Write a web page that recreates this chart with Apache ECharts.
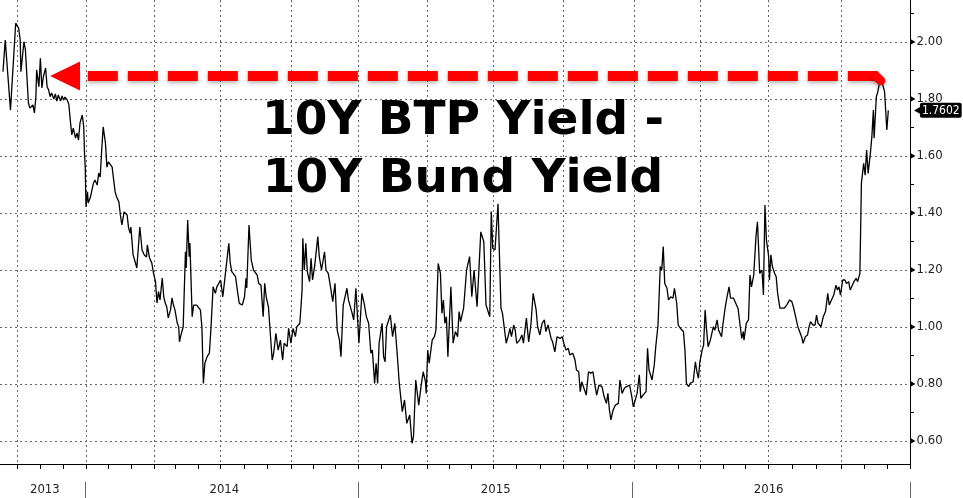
<!DOCTYPE html>
<html><head><meta charset="utf-8">
<script src="https://cdn.jsdelivr.net/npm/echarts@6/dist/echarts.min.js"></script>
<style>html,body{margin:0;padding:0;background:#fff}#c{width:963px;height:498px}</style>
</head><body><div id="c"></div>
<script>
// observation dates, as days counted from 1 Jan 2014
const dayFromJan2014 = [-110,-107,-100,-93,-89,-87,-86,-82,-80,-78,-76,-74,-70,-68,-66,-65,-62,-60,-58,-56,-53,-51,-49,-47,-45,-42,-40,-38,-36,-33,-31,-29,-27,-24,-22,-20,-18,-16,-13,-11,-9,-7,-4,-2,-1,
0,1,3,4,7,9,11,13,16,18,20,22,24,27,29,31,33,36,38,40,42,45,47,49,52,56,58,60,61,64,66,69,73,76,79,82,83,86,89,91,94,96,98,100,103,105,107,109,111,114,116,118,120,123,125,126,128,131,134,135,137,139,140,143,145,149,154,156,158,160,163,166,168,171,174,176,178,181,184,187,192,194,196,201,204,206,210,213,215,216,219,222,225,230,232,235,238,240,242,245,250,252,255,258,261,264,266,270,272,275,278,281,283,287,290,291,293,295,297,300,302,304,307,311,313,316,320,322,325,328,331,334,337,340,342,345,350,352,357,359,362,
366,370,373,376,379,382,384,387,389,391,393,397,399,401,403,408,410,411,414,417,420,424,427,430,434,437,439,442,446,449,452,455,456,458,460,464,467,469,472,475,477,479,481,483,485,489,492,495,498,500,502,506,508,510,514,517,520,524,529,533,536,538,541,543,545,548,552,554,556,558,563,566,568,570,573,575,577,581,584,586,590,593,596,599,603,605,608,611,614,616,619,623,625,628,631,635,638,640,643,646,648,652,655,657,660,662,664,666,670,673,676,679,682,684,687,691,694,697,699,701,703,706,709,713,715,718,721,724,728,
731,733,735,738,741,743,746,750,752,754,758,761,763,766,769,771,773,775,778,780,783,786,788,791,793,796,798,800,802,804,807,809,813,816,818,820,822,825,827,829,831,833,836,838,840,842,845,847,851,853,856,858,861,863,867,871,873,876,878,880,881,884,887,889,891,894,897,899,902,905,907,909,911,914,915,917,919,922,924,926,929,931,935,938,942,945,947,951,953,955,958,960,963,966,968,970,973,976,978,980,984,987,990,993,995,998,1001,1004,1006,1008,1010,1013,1016,1018,1021,1023,1025,1028,1031,1033,1036,1038,1041,1043,1045,1047,1050,1052,1054,1055,1058,1060,1062,1064,1066,1069,1072,1074];

// 10Y BTP yield minus 10Y Bund yield (percentage points)
const spread = [1.896,2.007,1.761,2.066,2.048,2.007,1.896,2.001,1.972,1.878,1.786,1.768,1.779,1.751,1.808,1.902,1.843,1.943,1.839,1.878,1.909,1.843,1.832,1.808,1.821,1.800,1.818,1.793,1.814,1.793,1.811,1.796,1.807,1.796,1.782,1.726,1.674,1.698,1.663,1.681,1.656,1.716,1.744,1.702,1.611,
1.561,1.421,1.474,1.435,1.456,1.481,1.505,1.516,1.498,1.540,1.526,1.621,1.702,1.646,1.561,1.579,1.575,1.561,1.516,1.474,1.456,1.439,1.393,1.358,1.404,1.393,1.347,1.330,1.351,1.253,1.235,1.207,1.351,1.270,1.253,1.246,1.288,1.242,1.225,1.193,1.158,1.084,1.124,1.095,1.172,1.106,1.084,1.071,1.032,1.060,1.102,1.077,1.060,1.014,1.001,0.948,0.972,1.001,1.264,1.207,1.375,1.247,1.295,1.036,1.077,1.077,1.060,1.001,0.802,0.873,0.896,0.908,0.989,1.141,1.118,1.141,1.137,1.165,1.106,1.177,1.294,1.223,1.194,1.177,1.118,1.083,1.077,1.106,1.171,1.137,1.358,1.235,1.200,1.182,1.153,1.147,1.036,1.153,1.106,1.071,0.884,0.908,0.978,0.919,0.954,0.884,0.943,0.931,0.995,0.943,0.995,0.966,1.001,1.013,1.130,1.311,1.200,1.294,1.194,1.159,1.241,1.165,1.218,1.317,1.247,1.200,1.264,1.200,1.188,1.141,1.089,1.153,0.989,0.954,0.896,1.077,1.136,1.095,1.048,1.025,1.136,
0.943,1.118,1.083,1.036,1.013,0.908,0.919,0.802,0.873,0.802,0.943,1.013,0.896,0.878,1.001,1.042,1.036,0.966,1.013,0.913,0.802,0.703,0.744,0.662,0.691,0.592,0.615,0.814,0.726,0.791,0.843,0.808,0.767,0.919,0.873,0.954,0.966,0.989,1.223,1.188,1.048,1.095,1.013,1.036,0.896,1.141,0.943,0.984,0.966,1.054,1.019,1.066,1.066,1.200,1.247,1.106,1.200,1.071,1.334,1.299,1.077,1.083,1.036,1.405,1.276,1.270,1.432,1.247,1.066,1.048,0.943,0.972,0.995,0.966,1.007,0.989,0.943,0.954,0.972,0.943,1.031,0.948,1.007,1.118,1.060,1.001,0.972,1.013,1.025,0.984,1.007,0.960,0.948,0.913,0.966,0.960,0.966,0.943,0.919,0.925,0.902,0.908,0.884,0.849,0.843,0.773,0.808,0.802,0.761,0.843,0.838,0.843,0.791,0.761,0.796,0.791,0.755,0.732,0.767,0.709,0.674,0.709,0.726,0.732,0.814,0.767,0.785,0.791,0.796,
0.755,0.720,0.738,0.767,0.832,0.750,0.761,0.773,0.925,0.849,0.814,0.867,0.931,1.007,1.212,1.200,1.282,1.153,1.136,1.095,1.106,1.101,1.136,1.083,1.007,0.995,1.001,0.984,0.919,0.802,0.791,0.802,0.808,0.878,0.843,0.820,0.878,0.919,0.937,1.060,0.989,0.931,0.954,0.978,1.001,0.989,1.025,0.989,0.966,1.013,1.071,1.101,1.141,1.101,1.101,1.077,1.066,1.001,0.960,0.984,0.954,1.013,1.025,1.182,1.141,1.182,1.317,1.369,1.188,1.200,1.112,1.428,1.305,1.247,1.165,1.253,1.212,1.188,1.177,1.118,1.066,1.060,1.066,1.077,1.095,1.089,1.071,1.025,1.001,0.995,0.966,0.943,0.966,0.972,1.001,1.019,1.007,1.007,1.042,1.013,1.001,1.036,1.054,1.118,1.077,1.095,1.112,1.147,1.130,1.141,1.112,1.165,1.165,1.153,1.159,1.130,1.141,1.159,1.171,1.159,1.188,1.504,1.574,1.533,1.621,1.539,1.609,1.668,1.761,1.662,1.808,1.826,1.855,1.861,1.855,1.826,1.691,1.7602];

const lastValue = 1.7602;

// axes (x in days from 1 Jan 2014)
const xMinDay = -114, xMaxDay = 1103;
const yMin = 0.5193, yMax = 2.1474;
const yTickValues = [0.6,0.7,0.8,0.9,1.0,1.1,1.2,1.3,1.4,1.5,1.6,1.7,1.8,1.9,2.0,2.1];
const yLabelValues = [0.6,0.8,1.0,1.2,1.4,1.6,1.8,2.0];
const yGridValues = [0.6,0.8,1.0,1.2,1.4,1.6,1.8,2.0];
const quarterGridDays = [-91,1,92,180,275,365,457,546,639,734,822,914,1011];
const monthTickDays = [-91,-60,-30,1,31,61,92,121,151,180,212,243,275,305,335,365,396,426,457,487,516,546,577,608,639,671,702,734,763,793,822,853,883,914,946,978,1011,1042,1072,1103];
const yearDividerDays = [0,365,732,1103];
const yearLabelDays = [-54,186,549,914];
const yearLabels = ['2013','2014','2015','2016'];

// annotation
const arrowLevel = 1.881, arrowFromDay = 1060, arrowToDay = -27;
const arrowCornerDay = 1064, arrowCornerLevel = 1.864;
const titleLines = ['10Y BTP Yield -', '10Y Bund Yield'];

const FONT = '"DejaVu Sans Condensed", "DejaVu Sans", sans-serif';
const gridStyle = { color: '#666', type: [2, 3], width: 1 };

const chart = echarts.init(document.getElementById('c'), null, { renderer: 'canvas' });
const data = dayFromJan2014.map((d, i) => [d, spread[i]]);

const xBase = { type: 'value', position: 'bottom', min: xMinDay, max: xMaxDay, scale: true };
const arrowStyle = { color: '#f00', width: 10, type: [30, 10], cap: 'butt', opacity: 1,
                     shadowBlur: 4, shadowColor: 'rgba(0,0,0,0.3)', shadowOffsetY: 2 };

chart.setOption({
  animation: false,
  backgroundColor: '#fff',
  grid: { left: 0, right: 53, top: 0, bottom: 34, containLabel: false, outerBoundsMode: 'none' },
  xAxis: [
    Object.assign({}, xBase, {
      axisLine: { show: true, onZero: false, lineStyle: { color: '#000', width: 1 } },
      axisTick: { show: true, customValues: monthTickDays, length: 5, lineStyle: { color: '#000' } },
      axisLabel: { show: false }, splitLine: { show: false } }),
    Object.assign({}, xBase, {
      axisLine: { show: false, onZero: false },
      axisTick: { show: false, customValues: quarterGridDays },
      axisLabel: { show: false }, splitLine: { show: true, lineStyle: gridStyle } }),
    Object.assign({}, xBase, { offset: 18,
      axisLine: { show: false, onZero: false },
      axisTick: { show: true, customValues: yearDividerDays, length: 16, lineStyle: { color: '#666' } },
      axisLabel: { show: true, customValues: yearLabelDays, margin: 1, color: '#222', fontSize: 13, fontFamily: FONT,
        formatter: function (v) {
          const i = yearLabelDays.indexOf(v);
          return i >= 0 ? yearLabels[i] : '';
        } },
      splitLine: { show: false } })
  ],
  yAxis: [
    { type: 'value', position: 'right', min: yMin, max: yMax,
      axisLine: { show: true, onZero: false, lineStyle: { color: '#000', width: 1 } },
      axisTick: { show: true, customValues: yTickValues, length: 4, lineStyle: { color: '#000' } },
      axisLabel: { show: true, customValues: yLabelValues, margin: 0, fontSize: 13, fontFamily: FONT,
        formatter: v => '{t|▶}{v|' + v.toFixed(2) + '}',
        rich: { t: { fontSize: 8, color: '#000', padding: [0, 1, 0, 0] },
                v: { fontSize: 13, fontFamily: FONT, color: '#222' } } },
      splitLine: { show: false } },
    { type: 'value', position: 'right', min: yMin, max: yMax,
      axisLine: { show: false, onZero: false },
      axisTick: { show: false, customValues: yGridValues },
      axisLabel: { show: false }, splitLine: { show: true, lineStyle: gridStyle } },
    { type: 'value', position: 'right', min: yMin, max: yMax, z: 10,
      axisLine: { show: false, onZero: false },
      axisTick: { show: false },
      axisLabel: { show: true, customValues: [lastValue], margin: 4, fontSize: 12, fontFamily: FONT,
        formatter: v => '{a|◀}{b|' + v.toFixed(4) + '}',
        rich: { a: { fontSize: 10, color: '#000', padding: [0, -1, 0, 0] },
                b: { fontSize: 12, fontFamily: FONT, color: '#fff', backgroundColor: '#000', padding: [2, 2, 1, 2], borderRadius: 2 } } },
      splitLine: { show: false } }
  ],
  graphic: [
    { type: 'text', x: 463, y: 93, z: 20,
      style: { text: titleLines.join('\n'), fontSize: 47, fontWeight: 'bold', fontFamily: '"DejaVu Sans", sans-serif',
               fill: '#000', align: 'center', verticalAlign: 'top', lineHeight: 58 } }
  ],
  series: [
    { type: 'line', xAxisIndex: 0, yAxisIndex: 0, data: data, symbol: 'none', showSymbol: false,
      lineStyle: { color: '#000', width: 1.3 }, z: 3, silent: true,
      markLine: { silent: true, symbol: ['none', 'triangle'], symbolSize: [29, 30],
        label: { show: false }, emphasis: { disabled: true },
        lineStyle: arrowStyle,
        data: [
          [ { coord: [arrowFromDay, arrowLevel] }, { coord: [arrowToDay, arrowLevel] } ],
          [ { coord: [arrowFromDay - 3, arrowLevel], symbol: 'none',
              lineStyle: Object.assign({}, arrowStyle, { type: 'solid', cap: 'round', width: 9 }) },
            { coord: [arrowCornerDay, arrowCornerLevel], symbol: 'none' } ]
        ] } }
  ]
});
</script></body></html>
